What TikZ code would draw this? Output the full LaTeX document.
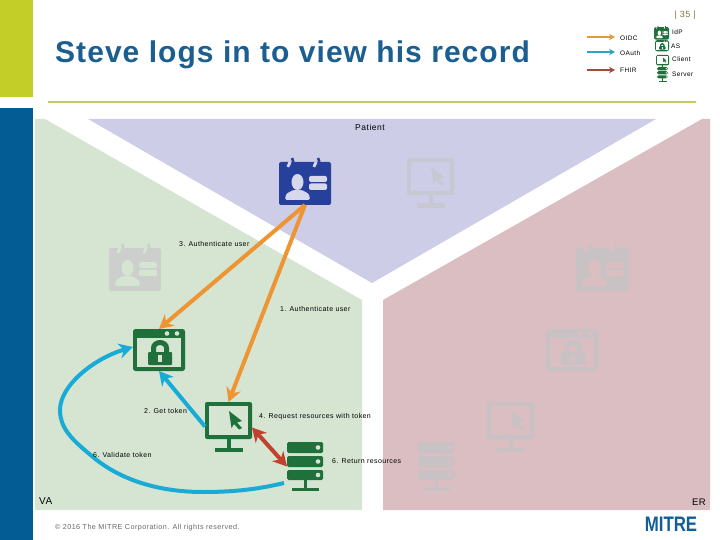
\documentclass[tikz,border=0pt]{standalone}
\usepackage{fontspec}
\usetikzlibrary{arrows.meta}
\setmainfont{Liberation Sans}
\newfontfamily\lblfont[LetterSpace=6]{Liberation Sans}
\newfontfamily\ttlfont[LetterSpace=3.5]{Liberation Sans}
\definecolor{sideyel}{HTML}{C4CE28}
\definecolor{sideblue}{HTML}{035C94}
\definecolor{rulecol}{HTML}{C8C868}
\definecolor{pblue}{HTML}{CDCDE8}
\definecolor{pgreen}{HTML}{D5E5D2}
\definecolor{pred}{HTML}{DBBEC2}
\definecolor{ibl}{HTML}{26409C}
\definecolor{igr}{HTML}{20703C}
\definecolor{gygr}{HTML}{CCCFCB}
\definecolor{gyred}{HTML}{C9C2C4}
\definecolor{gybl}{HTML}{C8C8D2}
\definecolor{oidc}{HTML}{EE9433}
\definecolor{oauth}{HTML}{18ABD6}
\definecolor{fhir}{HTML}{C2412D}
\definecolor{lgo}{HTML}{E8983C}
\definecolor{lga}{HTML}{2EA5C5}
\definecolor{lgf}{HTML}{A04C3C}
\definecolor{ttl}{HTML}{1B5E90}
\definecolor{logo}{HTML}{125E96}
\newcommand{\IdIcon}[5]{\begin{scope}[shift={(#1,#2)},scale=#3]
 \fill[#4,rounded corners=2] (0,4) rectangle (52,47);
 \draw[#5,line width=#3*3pt] (11,4) -- (9,9);
 \draw[#5,line width=#3*3pt] (37,4) -- (35,9);
 \draw[#4,line width=#3*2.6pt] (13,0) .. controls (15,4) and (15,8) .. (11,10);
 \draw[#4,line width=#3*2.6pt] (39,0) .. controls (41,4) and (41,8) .. (37,10);
 \fill[#5] (18.5,24) ellipse [x radius=6,y radius=8];
 \fill[#5,rounded corners=1.5] (6,42) -- (7,36) -- (14,32) -- (23,32) -- (30,36) -- (31,42) -- cycle;
 \fill[#5,rounded corners=2] (30,18) rectangle (48,24);
 \fill[#5,rounded corners=2] (30,25.5) rectangle (48,32);
\end{scope}}
\newcommand{\LockIcon}[5]{\begin{scope}[shift={(#1,#2)},scale=#3]
 \fill[#4,rounded corners=2.5] (0,0) rectangle (52,42);
 \fill[#5] (4,9) rectangle (48,38);
 \fill[#5] (34,4.5) circle (2.3);
 \fill[#5] (44,4.5) circle (2.3);
 \fill[#4,rounded corners=1] (15,23) rectangle (39,36);
 \draw[#4,line width=#3*5pt] (20.5,24) -- (20.5,19) arc[start angle=180,end angle=0,x radius=6.5,y radius=-5.5] -- (33.5,24);
 \draw[#5,line width=#3*4pt] (27,26) -- (27,33);
\end{scope}}
\newcommand{\MonIcon}[5]{\begin{scope}[shift={(#1,#2)},scale=#3]
 \fill[#4,rounded corners=2] (0,0) rectangle (47,37);
 \fill[#5] (4,4) rectangle (43,33);
 \fill[#4] (24,9) -- (37,19) -- (32,20.5) -- (37,26) -- (34,27.5) -- (29,22) -- (26.5,26) -- cycle;
 \fill[#4] (21.5,37) rectangle (25.5,50);
 \fill[#4] (10,45.5) rectangle (38,50);
\end{scope}}
\newcommand{\SrvIcon}[5]{\begin{scope}[shift={(#1,#2)},scale=#3]
 \fill[#4,rounded corners=1.5] (0,0) rectangle (36,11);
 \fill[#4,rounded corners=1.5] (0,14) rectangle (36,25);
 \fill[#4,rounded corners=1.5] (0,28) rectangle (36,38);
 \fill[#5] (31,5.5) circle (2.3);
 \fill[#5] (31,19.5) circle (2.3);
 \fill[#5] (31,33) circle (2.3);
 \fill[#4] (17,38) rectangle (20,48);
 \fill[#4] (5,46) rectangle (32,49);
\end{scope}}
\tikzset{
 hold/.style={inner sep=0pt,outer sep=0pt,minimum width=#1},
 lbl/.style={inner sep=0pt,font=\lblfont\fontsize{7}{8}\selectfont,anchor=west,text=black},
 flow/.style={line width=4pt,-{Stealth[length=14pt,width=15pt,inset=4.5pt]}},
 lgnd/.style={line width=2pt,-{Stealth[length=6pt,width=6.5pt]}},
 lgtx/.style={inner sep=0pt,font=\lblfont\fontsize{6.5}{8}\selectfont,anchor=west,text=black}
}
\begin{document}
\begin{tikzpicture}[x=1pt,y=-1pt]
\useasboundingbox (0,0) rectangle (720,540);
% page furniture
\fill[sideyel] (0,0) rectangle (33,97);
\fill[sideblue] (0,108) rectangle (33,540);
\fill[rulecol] (48,101) rectangle (696,103);
% panels
\fill[pblue] (88,119) -- (656,119) -- (372,283) -- cycle;
\fill[pgreen] (35,119) -- (45,119) -- (362,300) -- (362,510) -- (35,510) -- cycle;
\fill[pred] (383,300) -- (702,119) -- (710,119) -- (710,510) -- (383,510) -- cycle;
% grey icons
\IdIcon{109}{244}{1}{gygr}{pgreen}
\IdIcon{576}{244}{1}{gyred}{pred}
\MonIcon{407}{158}{1}{gybl}{pblue}
\LockIcon{546}{329}{1}{gyred}{pred}
\MonIcon{487}{402}{1}{gyred}{pred}
\SrvIcon{418}{442}{1}{gyred}{pred}
% active icons
\IdIcon{279}{158}{1}{ibl}{pblue!80!white}
\LockIcon{133}{329}{1}{igr}{pgreen}
\MonIcon{205}{402}{1}{igr}{pgreen}
\SrvIcon{287}{442}{1}{igr}{pgreen}
% anchor nodes for the active icons
\node[hold=52pt,minimum height=47pt] (pid) at (305,181.5) {};
\node[hold=52pt,minimum height=42pt] (lock) at (159,350) {};
\node[hold=47pt,minimum height=37pt] (mon) at (228.5,420.5) {};
\node[hold=36pt,minimum height=49pt] (srv) at (305,466.5) {};
% connectors
\draw[flow,oidc] (pid.south) -- (lock.north);
\draw[flow,oidc] (pid.south) -- (mon.north);
\draw[flow,oauth] ([yshift=-6pt]mon.west) -- (lock.south);
\draw[flow,oauth] ([xshift=-3pt,yshift=8pt]srv.south west)
  .. controls (255,490) and (230,492) .. (203,492)
  .. controls (155,492) and (118,478) .. (93,457)
  .. controls (75,442) and (60,430) .. (60,410)
  .. controls (60,385) and (95,358) .. ([yshift=3pt]lock.west);
\draw[line width=4pt,fhir,{Stealth[length=14pt,width=15pt,inset=4.5pt]}-{Stealth[length=14pt,width=15pt,inset=4.5pt]}] ([yshift=-7pt]mon.east) -- (srv.west);
% labels
\node[inner sep=0pt,font=\lblfont\fontsize{8.5}{10}\selectfont] (lp) at (370,127) {Patient};
\node[lbl] (l3) at (179,244) {3. Authenticate user};
\node[lbl] (l1) at (280,309) {1. Authenticate user};
\node[lbl] (l2) at (144,411) {2. Get token};
\node[lbl] (l6) at (93,455) {6. Validate token};
\node[lbl] (l4) at (259,417) {4. Request resources with token};
\node[lbl] (l5) at (332,461) {6. Return resources};
\node[inner sep=0pt,font=\lblfont\fontsize{10}{11}\selectfont,anchor=west] (va) at (39,501) {VA};
\node[inner sep=0pt,font=\lblfont\fontsize{9.5}{11}\selectfont,anchor=east] (er) at (706,502) {ER};
% title and page number
\node[inner sep=0pt,anchor=west,font=\ttlfont\bfseries\fontsize{30}{33}\selectfont,text=ttl] (title) at (55,55) {Steve logs in to view his record};
\node[inner sep=0pt,anchor=east,font=\lblfont\fontsize{9}{10}\selectfont,text=black!40!rulecol] (pg) at (696,15) {| 35 |};
% legend
\coordinate (la1) at (587,37); \coordinate (lb1) at (615,37);
\coordinate (la2) at (587,52); \coordinate (lb2) at (615,52);
\coordinate (la3) at (587,70); \coordinate (lb3) at (615,70);
\draw[lgnd,lgo] (la1) -- (lb1);
\draw[lgnd,lga] (la2) -- (lb2);
\draw[lgnd,lgf] (la3) -- (lb3);
\node[lgtx] (t1) at (620,38) {OIDC};
\node[lgtx] (t2) at (620,53) {OAuth};
\node[lgtx] (t3) at (620,70) {FHIR};
\IdIcon{654}{26}{0.29}{igr}{white}
\LockIcon{655}{40}{0.27}{igr}{white}
\MonIcon{656}{55}{0.28}{igr}{white}
\SrvIcon{657}{67}{0.3}{igr}{white}
\node[lgtx] (t4) at (672,32) {IdP};
\node[lgtx] (t5) at (671,46) {AS};
\node[lgtx] (t6) at (672,59) {Client};
\node[lgtx] (t7) at (672,74) {Server};
% footer
\node[inner sep=0pt,anchor=west,font=\lblfont\fontsize{7.2}{8}\selectfont,text=black!60] (foot) at (55,528) {© 2016 The MITRE Corporation. All rights reserved.};
\node[inner sep=0pt,anchor=center,font=\bfseries\fontsize{21}{22}\selectfont,text=logo,xscale=.8] (mitre) at (671,524.5) {MITRE};
\end{tikzpicture}
\end{document}
